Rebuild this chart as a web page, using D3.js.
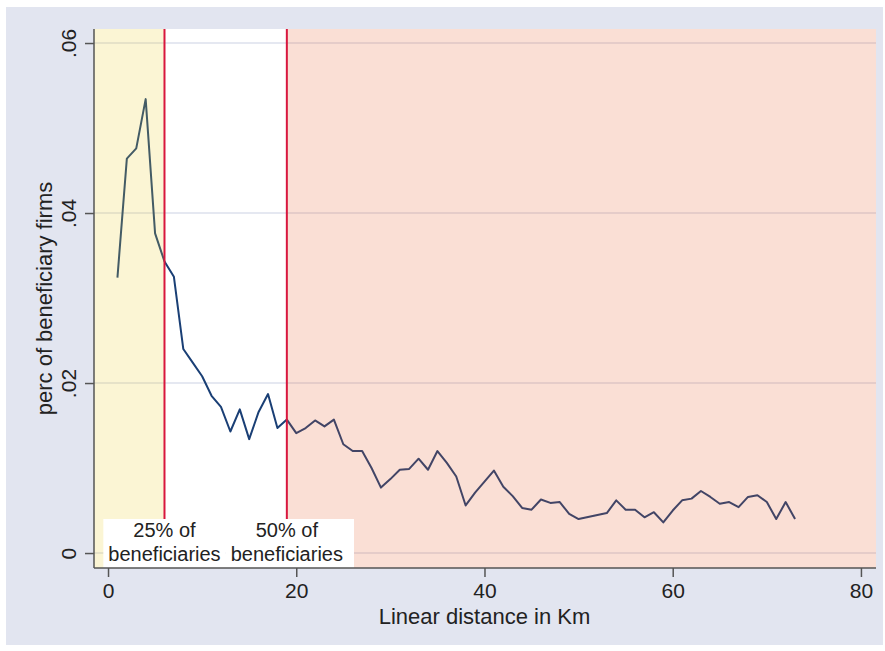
<!DOCTYPE html>
<html>
<head>
<meta charset="utf-8">
<script src="https://cdn.jsdelivr.net/npm/d3@7"></script>
<style>
  html, body { margin: 0; padding: 0; background: #fff; }
  svg { display: block; font-family: "Liberation Sans", Arial, sans-serif; }
</style>
</head>
<body>
<svg id="chart" width="885" height="651"></svg>
<script>
// distance in km (51 and 52 not in the series)
var distance = [1,2,3,4,5,6,7,8,9,10,11,12,13,14,15,16,17,18,19,20,
  21,22,23,24,25,26,27,28,29,30,31,32,33,34,35,36,37,38,39,40,
  41,42,43,44,45,46,47,48,49,50,53,54,55,56,57,58,59,60,
  61,62,63,64,65,66,67,68,69,70,71,72,73];
var share = [0.0324,0.0464,0.0476,0.0534,0.0376,0.0343,0.0325,0.0240,0.0224,0.0208,
  0.0185,0.0172,0.0143,0.0169,0.0134,0.0166,0.0187,0.0147,0.0157,0.0141,
  0.0147,0.0156,0.0149,0.0157,0.0128,0.0120,0.0120,0.0100,0.0077,0.0087,
  0.0098,0.0099,0.0111,0.0098,0.0120,0.0106,0.0090,0.0056,0.0071,0.0084,
  0.0097,0.0078,0.0067,0.0053,0.0051,0.0063,0.0059,0.0060,0.0046,0.0040,
  0.0047,0.0062,0.0051,0.0051,0.0042,0.0048,0.0036,0.0050,
  0.0062,0.0064,0.0073,0.0066,0.0058,0.0060,0.0054,0.0066,0.0068,0.0060,0.0040,0.0060,0.0040];

var xTicks = [0, 20, 40, 60, 80];
var yTicks = [0, 0.02, 0.04, 0.06];
var yTickLabels = ["0", ".02", ".04", ".06"];
var cutoffs = [6, 19];
var cutoffLabels = [["25% of", "beneficiaries"], ["50% of", "beneficiaries"]];

var svg = d3.select("#chart"),
    margin = {top: 29, right: 9, bottom: 83, left: 94},
    width = 885 - margin.left - margin.right,
    height = 651 - margin.top - margin.bottom;

// outer background
svg.append("rect").attr("x", 6).attr("y", 7).attr("width", 877).attr("height", 638)
    .attr("fill", "#e2e5f0");

var g = svg.append("g").attr("transform", "translate(" + margin.left + "," + margin.top + ")");

var xScale = d3.scaleLinear().domain([-1.49, 81.6]).range([0, width]),
    yScale = d3.scaleLinear().domain([-0.00176, 0.06165]).range([height, 0]);

g.append("rect").attr("width", width).attr("height", height).attr("fill", "#fff");

// grid lines
g.selectAll(".grid")
  .data(yTicks)
  .enter().append("line")
    .attr("class", "grid")
    .attr("x1", 0).attr("x2", width)
    .attr("y1", function(d) { return yScale(d); })
    .attr("y2", function(d) { return yScale(d); })
    .attr("stroke", "#dde1ec")
    .attr("stroke-width", 1.5);

var line = d3.line()
    .x(function(d, i) { return xScale(distance[i]); })
    .y(function(d) { return yScale(d); });

g.append("path")
    .datum(share)
    .attr("d", line)
    .attr("fill", "none")
    .attr("stroke", "#1a3f75")
    .attr("stroke-width", 2)
    .attr("stroke-linejoin", "round");

// shaded bands, drawn over the line
g.append("rect")
    .attr("x", 0).attr("y", 0)
    .attr("width", xScale(cutoffs[0]))
    .attr("height", height)
    .attr("fill", "#ebcd28").attr("fill-opacity", 0.2);

g.append("rect")
    .attr("x", xScale(cutoffs[1])).attr("y", 0)
    .attr("width", width - xScale(cutoffs[1]))
    .attr("height", height)
    .attr("fill", "#e55f2d").attr("fill-opacity", 0.2);

// cutoff lines
g.selectAll(".cutoff")
  .data(cutoffs)
  .enter().append("line")
    .attr("class", "cutoff")
    .attr("x1", function(d) { return xScale(d); })
    .attr("x2", function(d) { return xScale(d); })
    .attr("y1", 0).attr("y2", height)
    .attr("stroke", "#d8173e")
    .attr("stroke-width", 2);

// labels with white boxes
cutoffs.forEach(function(c, i) {
  var lab = g.append("g");
  var box = lab.append("rect").attr("fill", "#fff");
  var t = lab.append("text")
      .attr("text-anchor", "middle")
      .attr("font-size", 20)
      .attr("fill", "#222");
  t.append("tspan").attr("x", xScale(c)).attr("y", height - 31).text(cutoffLabels[i][0]);
  t.append("tspan").attr("x", xScale(c)).attr("y", height - 7).text(cutoffLabels[i][1]);
  var bb = t.node().getBBox();
  box.attr("x", bb.x - 5).attr("y", height - 49)
     .attr("width", bb.width + 5 + (i === 1 ? 11 : 5)).attr("height", 49);
});

// axes
var xAxis = d3.axisBottom(xScale).tickValues(xTicks).tickSize(9).tickPadding(6);
var yAxis = d3.axisLeft(yScale).tickValues(yTicks).tickSize(9)
    .tickFormat(function(d, i) { return yTickLabels[i]; });

var xg = g.append("g")
    .attr("transform", "translate(0," + height + ")")
    .call(xAxis);
xg.select(".domain").attr("d", "M0,0H" + width);

var yg = g.append("g").call(yAxis);
yg.select(".domain").attr("d", "M0,0V" + height);

[xg, yg].forEach(function(a) {
  a.select(".domain").attr("stroke", "#555").attr("stroke-width", 1.5);
  a.selectAll(".tick line").attr("stroke", "#555").attr("stroke-width", 1.5);
  a.selectAll(".tick text").attr("font-size", 21).attr("fill", "#222")
    .attr("font-family", "Liberation Sans, Arial, sans-serif");
});

yg.selectAll(".tick text")
    .attr("x", null).attr("dy", null)
    .attr("text-anchor", "middle")
    .attr("transform", "translate(-18,0) rotate(-90)");

// axis titles
svg.append("text")
    .attr("x", margin.left + xScale(40))
    .attr("y", 624)
    .attr("text-anchor", "middle")
    .attr("font-size", 22)
    .attr("fill", "#222")
    .text("Linear distance in Km");

svg.append("text")
    .attr("transform", "translate(52," + (margin.top + height / 2) + ") rotate(-90)")
    .attr("text-anchor", "middle")
    .attr("font-size", 22)
    .attr("fill", "#222")
    .text("perc of beneficiary firms");
</script>
</body>
</html>
